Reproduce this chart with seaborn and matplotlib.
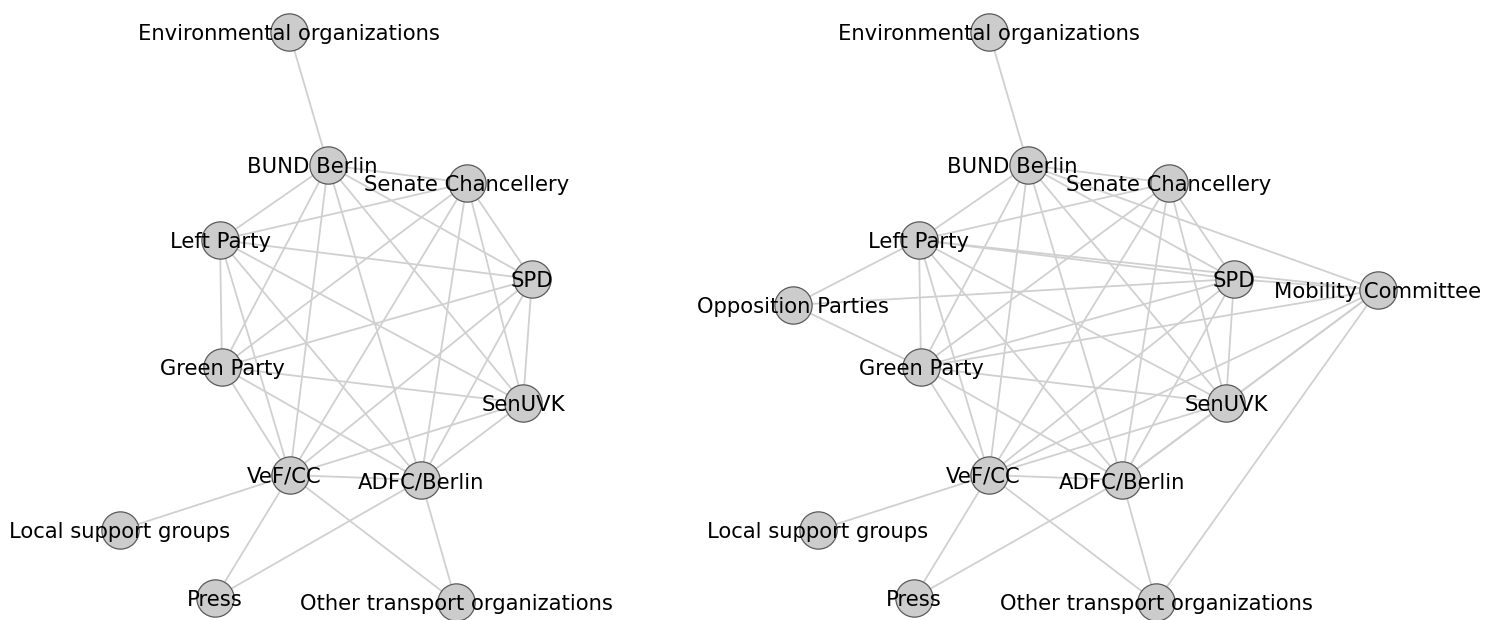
import itertools
import pandas as pd
import seaborn as sns
import matplotlib.pyplot as plt

sns.set_theme(style="white")
plt.rcParams['font.family'] = ['DejaVu Sans']

# Node layout (pixel coordinates within each panel)
left_nodes = ['Environmental organizations', 'BUND Berlin', 'Senate Chancellery', 'Left Party',
              'SPD', 'Green Party', 'SenUVK', 'VeF/CC', 'ADFC/Berlin',
              'Local support groups', 'Press', 'Other transport organizations']
left_x = [289, 328, 467, 220, 532, 222, 523, 290, 421, 120, 215, 456]
left_y = [32, 165, 183, 240, 279, 367, 403, 475, 480, 530, 598, 602]

right_nodes = ['Environmental organizations', 'BUND Berlin', 'Senate Chancellery', 'Left Party',
               'SPD', 'Mobility Committee', 'Opposition Parties', 'Green Party', 'SenUVK',
               'VeF/CC', 'ADFC/Berlin', 'Local support groups', 'Press',
               'Other transport organizations']
right_x = [299, 338, 479, 229, 544, 688, 103, 231, 536, 299, 432, 128, 224, 466]
right_y = [32, 165, 183, 240, 279, 290, 305, 367, 403, 475, 480, 530, 598, 602]

# the eight core actors are all tied to each other
core = ['BUND Berlin', 'Senate Chancellery', 'Left Party', 'SPD', 'Green Party',
        'SenUVK', 'VeF/CC', 'ADFC/Berlin']
outer_edges = [('Environmental organizations', 'BUND Berlin'),
               ('Local support groups', 'VeF/CC'),
               ('Press', 'VeF/CC'),
               ('Press', 'ADFC/Berlin'),
               ('Other transport organizations', 'VeF/CC'),
               ('Other transport organizations', 'ADFC/Berlin')]
extra_edges = [('Opposition Parties', 'Left Party'),
               ('Opposition Parties', 'SPD'),
               ('Opposition Parties', 'Green Party'),
               ('Mobility Committee', 'BUND Berlin'),
               ('Mobility Committee', 'Left Party'),
               ('Mobility Committee', 'SPD'),
               ('Mobility Committee', 'Green Party'),
               ('Mobility Committee', 'SenUVK'),
               ('Mobility Committee', 'VeF/CC'),
               ('Mobility Committee', 'ADFC/Berlin'),
               ('Mobility Committee', 'Other transport organizations')]

left_edges = list(itertools.combinations(core, 2)) + outer_edges
right_edges = left_edges + extra_edges

# small label nudges where the label is not centred on the node
label_dx = {'BUND Berlin': -16, 'VeF/CC': -6}


def draw_network(ax, nodes, xs, ys, edges, width):
    pos = {n: (x, y) for n, x, y in zip(nodes, xs, ys)}
    rows = []
    for i, (a, b) in enumerate(edges):
        rows.append({'edge': i, 'x': pos[a][0], 'y': pos[a][1]})
        rows.append({'edge': i, 'x': pos[b][0], 'y': pos[b][1]})
    edge_df = pd.DataFrame(rows)
    sns.lineplot(data=edge_df, x='x', y='y', units='edge', estimator=None, sort=False,
                 color='#d0d0d0', linewidth=1.3, ax=ax, zorder=1)
    node_df = pd.DataFrame({'name': nodes, 'x': xs, 'y': ys})
    sns.scatterplot(data=node_df, x='x', y='y', s=720, color='#cccccc',
                    edgecolor='#5a5a5a', linewidth=0.9, ax=ax, zorder=3)
    for n, x, y in zip(nodes, xs, ys):
        ax.text(x + label_dx.get(n, 0), y + 2, n, ha='center', va='center',
                fontsize=15.2, color='#000000', zorder=4)
    ax.set_xlim(0, width)
    ax.set_ylim(620, 0)
    ax.set_axis_off()


fig = plt.figure(figsize=(14.91, 6.2), dpi=100)
ax1 = fig.add_axes([0, 0, 690 / 1491, 1])
ax2 = fig.add_axes([690 / 1491, 0, 801 / 1491, 1])

draw_network(ax1, left_nodes, left_x, left_y, left_edges, 690)
draw_network(ax2, right_nodes, right_x, right_y, right_edges, 801)

fig.savefig('out.png', dpi=100)
